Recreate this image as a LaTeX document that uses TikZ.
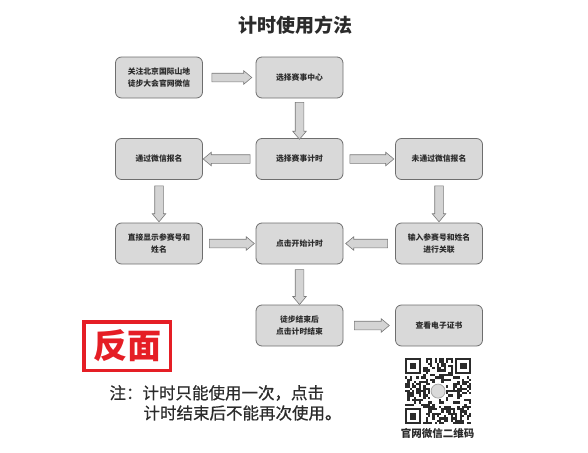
\documentclass[tikz,border=0pt]{standalone}
\usepackage{fontspec}
\setmainfont{Noto Sans CJK SC}
\usetikzlibrary{shapes.arrows}
\definecolor{boxfill}{HTML}{D9D9D9}
\definecolor{boxline}{HTML}{6E6E6E}
\definecolor{arrowfill}{HTML}{D4D4D4}
\definecolor{arrowline}{HTML}{7A7A7A}
\definecolor{ink}{HTML}{2B2B2B}
\definecolor{stampred}{HTML}{E51E25}
\tikzset{
  stepbox/.style={draw=boxline,fill=boxfill,line width=.8pt,rounded corners=6pt,
    minimum width=87pt,minimum height=41pt,inner sep=1pt,align=center,text=ink,
    font=\fontsize{7.8}{11.3}\selectfont\bfseries},
  flowarrow/.style={single arrow,draw=arrowline,fill=arrowfill,line width=.6pt,
    inner sep=4pt,minimum width=13pt,single arrow head extend=2.5pt,single arrow tip angle=80,
    minimum height=#1,sloped,allow upside down},
  flowarrow/.default=40pt,
  qrink/.style={fill=ink}
}
\begin{document}
\begin{tikzpicture}[x=1pt,y=-1pt]
\useasboundingbox (0,0) rectangle (588,452);
\node[text=ink,font=\fontsize{19}{19}\selectfont\bfseries] (title) at (295,25) {计时使用方法};
\node[stepbox] (follow) at (159,77.5) {关注北京国际山地\\徒步大会官网微信};
\node[stepbox] (center) at (299.5,77.5) {选择赛事中心};
\node[stepbox] (timing) at (299.5,159) {选择赛事计时};
\node[stepbox] (wxyes) at (159,159) {通过微信报名};
\node[stepbox] (wxno) at (439,159) {未通过微信报名};
\node[stepbox] (shownum) at (159,243.5) {直接显示参赛号和\\姓名};
\node[stepbox] (start) at (299.5,243.5) {点击开始计时};
\node[stepbox] (bind) at (439,243.5) {输入参赛号和姓名\\进行关联};
\node[stepbox] (finish) at (299.5,325.5) {徒步结束后\\点击计时结束};
\node[stepbox] (cert) at (439,325.5) {查看电子证书};
\path (follow) -- node[flowarrow=40pt]{} (center);
\path (center) -- node[flowarrow=37pt]{} (timing);
\path (timing) -- node[flowarrow=47pt]{} (wxyes);
\path (timing) -- node[flowarrow=44pt]{} (wxno);
\path (wxyes) -- node[flowarrow=36pt]{} (shownum);
\path (wxno) -- node[flowarrow=36pt]{} (bind);
\path (shownum) -- node[flowarrow=45pt]{} (start);
\path (bind) -- node[flowarrow=42pt]{} (start);
\path (start) -- node[flowarrow=35pt]{} (finish);
\path (finish) -- node[flowarrow=35pt]{} (cert);
\node[draw=stampred,line width=3.5pt,minimum width=86.5pt,minimum height=48.5pt,inner sep=0pt,
  text=stampred,font=\fontsize{34}{34}\selectfont\bfseries] (stamp) at (127,346) {反面};
\node[anchor=west,text=ink,font=\fontsize{16.5}{16.5}\selectfont\addfontfeature{FakeBold=0.6}] (note1) at (106,393) {注：计时只能使用一次，点击};
\node[anchor=west,text=ink,font=\fontsize{16.5}{16.5}\selectfont\addfontfeature{FakeBold=0.6}] (note2) at (140,413) {计时结束后不能再次使用。};
% qr code
\pgfmathsetseed{11}
\foreach \i in {0,...,28}{\foreach \j in {0,...,28}{
  \pgfmathtruncatemacro\qrbit{((\i<8 && \j<8) || (\i>20 && \j<8) || (\i<8 && \j>20) || (\i>10 && \i<18 && \j>10 && \j<18)) ? 0 : (rnd<0.48 ? 1 : 0)}
  \ifnum\qrbit=1 \fill[qrink] (405+\i*2.28,358+\j*2.28) rectangle ++(2.28,2.28);\fi
}}
\foreach \cx/\cy in {0/0,22/0,0/22}{
  \fill[qrink] (405+\cx*2.28,358+\cy*2.28) rectangle ++(7*2.28,7*2.28);
  \fill[white] (405+\cx*2.28+2.28,358+\cy*2.28+2.28) rectangle ++(5*2.28,5*2.28);
  \fill[qrink] (405+\cx*2.28+2*2.28,358+\cy*2.28+2*2.28) rectangle ++(3*2.28,3*2.28);
}
\node[circle,draw=gray!70,fill=gray!30,line width=.8pt,minimum size=14pt,inner sep=0pt] (logo) at (438.1,391.1) {};
\node[text=ink,font=\fontsize{10.5}{10.5}\selectfont\bfseries] (qrcap) at (437.5,433) {官网微信二维码};
\end{tikzpicture}
\end{document}
